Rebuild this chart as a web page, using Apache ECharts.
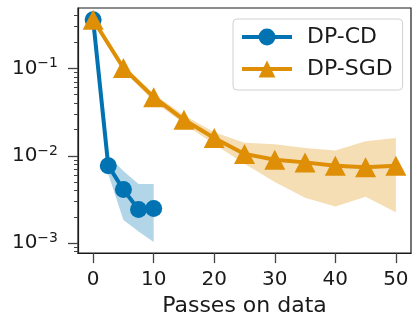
<!DOCTYPE html>
<html>
<head>
<meta charset="utf-8">
<script src="https://cdn.jsdelivr.net/npm/echarts@6/dist/echarts.min.js"></script>
<style>
  html, body { margin: 0; padding: 0; background: #fff; }
  #chart { width: 412px; height: 322px; }
</style>
</head>
<body>
<div id="chart"></div>
<script>
// DP-CD: passes, mean error and the shaded band
const cdPasses = [0, 2.5, 5, 7.5, 10];
const cdValues = [0.36, 0.0077, 0.0041, 0.00243, 0.00249];
const cdLower = [0.33, 0.0062, 0.00184, 0.00136, 0.00103];
const cdUpper = [0.39, 0.0100, 0.0067, 0.00476, 0.00476];

// DP-SGD
const sgdPasses = [0, 5, 10, 15, 20, 25, 30, 35, 40, 45, 50];
const sgdValues = [0.36, 0.101, 0.0468, 0.0258, 0.0160, 0.0105, 0.0090, 0.0084, 0.0077, 0.0074, 0.0077];
const sgdLower = [0.33, 0.093, 0.042, 0.0232, 0.0135, 0.0081, 0.0050, 0.0033, 0.00262, 0.0034, 0.00226];
const sgdUpper = [0.39, 0.109, 0.051, 0.0290, 0.0186, 0.0141, 0.0135, 0.0123, 0.0115, 0.0147, 0.0160];

const xTicks = [0, 10, 20, 30, 40, 50];
const yTicks = [0.001, 0.01, 0.1];
const yMinorTicks = [];
[0.0001, 0.001, 0.01, 0.1].forEach(d => {
  for (let k = 2; k <= 9; k++) yMinorTicks.push(+(k * d).toPrecision(3));
});

const blue = '#0173b2';
const orange = '#de8f05';
const font = 'DejaVu Sans';
const ink = '#1a1a1a';

function band(name, xs, lo, hi, fill) {
  return {
    name: name,
    type: 'custom',
    silent: true,
    z: 1,
    data: xs.map((x, i) => [x, lo[i], hi[i]]),
    encode: { x: 0, y: [1, 2] },
    renderItem: (params, api) => {
      if (params.dataIndex !== 0) return;
      const top = xs.map((x, i) => api.coord([x, hi[i]]));
      const bottom = xs.map((x, i) => api.coord([x, lo[i]])).reverse();
      return {
        type: 'polygon',
        shape: { points: top.concat(bottom) },
        style: { fill: fill }
      };
    }
  };
}

const chart = echarts.init(document.getElementById('chart'), null, { renderer: 'canvas' });

chart.setOption({
  animation: false,
  textStyle: { fontFamily: font },
  grid: {
    left: 78, right: 1, top: 8, bottom: 65,
    show: true, borderColor: ink, borderWidth: 1.2, backgroundColor: 'transparent'
  },
  legend: {
    data: ['DP-CD', 'DP-SGD'],
    orient: 'vertical',
    left: 233, top: 19,
    padding: [7, 10, 10, 7],
    itemWidth: 50, itemHeight: 21, itemGap: 10,
    lineStyle: { width: 4 },
    backgroundColor: 'rgba(255,255,255,0.85)',
    borderColor: '#d0d0d0', borderWidth: 1, borderRadius: 4,
    textStyle: { fontFamily: font, fontSize: 22, color: ink, lineHeight: 22, padding: [0, 0, 0, 10] }
  },
  xAxis: {
    type: 'value',
    min: -2.5, max: 52.5,
    name: 'Passes on data',
    nameLocation: 'middle',
    nameGap: 41,
    nameTextStyle: { fontFamily: font, fontSize: 22, color: ink },
    axisLine: { show: true, onZero: false, lineStyle: { color: ink, width: 1.2 } },
    axisTick: { show: true, length: 10, customValues: xTicks, lineStyle: { color: '#444', width: 1.3 } },
    axisLabel: { customValues: xTicks, margin: 17, fontFamily: font, fontSize: 20, color: ink },
    splitLine: { show: false }
  },
  yAxis: [{
    type: 'log', logBase: 10,
    min: 0.00077, max: 0.49,
    axisLine: { show: true, onZero: false, lineStyle: { color: ink, width: 1.2 } },
    axisTick: { show: true, length: 10, customValues: yTicks, lineStyle: { color: '#444', width: 1.3 } },
    axisLabel: {
      customValues: yTicks,
      margin: 20,
      fontFamily: font, fontSize: 20, color: ink,
      formatter: v => '10{sup|\u2212' + Math.round(-Math.log10(v)) + '}',
      rich: {
        sup: { fontFamily: font, fontSize: 14, color: ink, verticalAlign: 'bottom', padding: [0, 0, 9, 0] }
      }
    },
    splitLine: { show: false }
  }, {
    type: 'log', logBase: 10,
    min: 0.00077, max: 0.49,
    position: 'left',
    axisLine: { show: false, onZero: false },
    axisTick: { show: true, length: 4, customValues: yMinorTicks, lineStyle: { color: '#444', width: 1 } },
    axisLabel: { show: false },
    splitLine: { show: false }
  }],
  series: [
    band('cd-band', cdPasses, cdLower, cdUpper, 'rgba(1,115,178,0.3)'),
    band('sgd-band', sgdPasses, sgdLower, sgdUpper, 'rgba(222,143,5,0.3)'),
    {
      name: 'DP-CD',
      type: 'line',
      z: 3,
      data: cdPasses.map((x, i) => [x, cdValues[i]]),
      symbol: 'circle',
      symbolSize: 17,
      showAllSymbol: true,
      lineStyle: { color: blue, width: 4 },
      itemStyle: { color: blue }
    },
    {
      name: 'DP-SGD',
      type: 'line',
      z: 4,
      data: sgdPasses.map((x, i) => [x, sgdValues[i]]),
      symbol: 'triangle',
      symbolSize: [21, 20],
      showAllSymbol: true,
      lineStyle: { color: orange, width: 4 },
      itemStyle: { color: orange }
    }
  ]
});
</script>
</body>
</html>
